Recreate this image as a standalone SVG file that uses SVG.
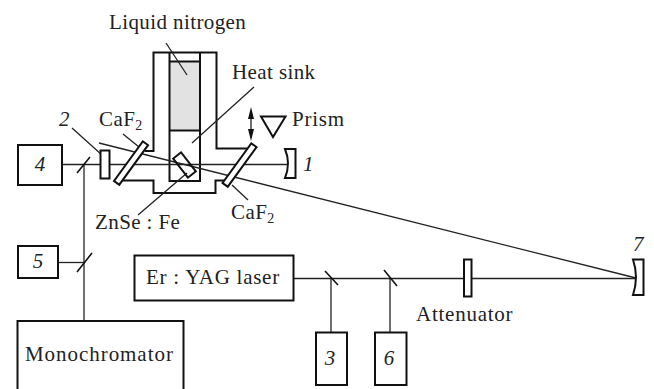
<svg xmlns="http://www.w3.org/2000/svg" width="654" height="389" viewBox="0 0 654 389">
<defs>
<style>
.b{fill:#fff;stroke:#111;stroke-width:2}
.w{fill:none;stroke:#111;stroke-width:2}
.l{fill:none;stroke:#222;stroke-width:1.3}
.m{fill:none;stroke:#111;stroke-width:1.6}
.t{font-family:"Liberation Serif",serif;font-size:21px;letter-spacing:.4px;fill:#222}
.x{letter-spacing:.75px}
.i{font-family:"Liberation Serif",serif;font-size:21px;font-style:italic;fill:#222}
.s{font-size:14px}
</style>
</defs>
<g id="cryostat">
<rect x="169.500" y="61.500" width="30" height="69" fill="#e2e2e2"/>
<path class="w" d="M145 151H153.500V52.500H216.500V148.500H247M122 180.500H153.500V193H215.500V180.500H226"/>
<path class="w" d="M169.500 52.500V181H200V52.500M169.500 61.500H200M169.500 130.500H200"/>
</g>
<g id="connectors">
<path class="l" d="M61 164.500H288"/>
<path class="l" d="M99 143L636 278"/>
<path class="l" d="M294 278.500H636"/>
<path class="l" d="M84 164V321"/>
<path class="l" d="M58 262.500H84"/>
<path class="l" d="M331 278V333"/>
<path class="l" d="M390 278V332"/>
<path class="m" d="M77 173L90 157M77 272L92 253M325 271L338 285M384 270L397 286"/>
<path class="l" d="M166 43L187 75M254 87L192 143M72 128L102 155M123 134L139 147M232 185L248 200M138 215L187 173"/>
<path class="l" d="M251 112V136"/>
<path d="M251 107L248 119H254ZM251 141L248 129H254Z" fill="#111"/>
</g>
<g id="item-2">
<rect class="b" x="100.500" y="150.500" width="9" height="28"/>
<text class="i" x="59" y="126">2</text>
</g>
<g id="window-left"><rect class="b" x="-3.200" y="-24.500" width="6.500" height="49" transform="translate(131 163) rotate(36)"/></g>
<g id="window-right"><rect class="b" x="-3.200" y="-24.500" width="6.500" height="49" transform="translate(239.500 165) rotate(36)"/></g>
<g id="crystal"><rect class="w" x="-12" y="-5" width="24" height="10" transform="translate(184.500 165) rotate(52)"/></g>
<g id="mirror-1">
<path class="b" d="M285 149H295.500V178H285Q291 163.500 285 149Z"/>
<text class="i" x="303" y="171">1</text>
</g>
<g id="mirror-7">
<path class="b" d="M633 259.500H643.500V295H633Q639 277 633 259.500Z"/>
<text class="i" x="633" y="251">7</text>
</g>
<g id="attenuator"><rect class="b" x="464" y="259.500" width="7.500" height="37"/><text class="t x" x="416" y="321">Attenuator</text></g>
<g id="prism"><path class="w" d="M261 116.500H285.500L273 137Z"/><text class="t x" x="292" y="126">Prism</text></g>
<g id="box-4"><rect class="b" x="18" y="145" width="44" height="40"/><text class="i" x="40" y="171" text-anchor="middle">4</text></g>
<g id="box-5"><rect class="b" x="18" y="246" width="40" height="32"/><text class="i" x="38" y="268" text-anchor="middle">5</text></g>
<g id="box-laser"><rect class="b" x="134.500" y="255.500" width="159" height="45"/><text class="t x" x="146" y="284">Er : YAG laser</text></g>
<g id="box-mono"><rect class="b" x="17.500" y="321" width="166" height="72"/><text class="t" x="25" y="361" style="letter-spacing:.95px">Monochromator</text></g>
<g id="box-3"><rect class="b" x="316" y="332.500" width="31" height="52.500"/><text class="i" x="330" y="365" text-anchor="middle">3</text></g>
<g id="box-6"><rect class="b" x="375" y="332.500" width="31.500" height="52.500"/><text class="i" x="389" y="365" text-anchor="middle">6</text></g>
<g id="labels">
<text class="t" x="109" y="29">Liquid nitrogen</text>
<text class="t" x="232" y="79">Heat sink</text>
<text class="t" x="99" y="126">CaF<tspan class="s" dy="4">2</tspan></text>
<text class="t" x="231" y="219">CaF<tspan class="s" dy="4">2</tspan></text>
<text class="t" x="95" y="229">ZnSe : Fe</text>
</g>
</svg>
